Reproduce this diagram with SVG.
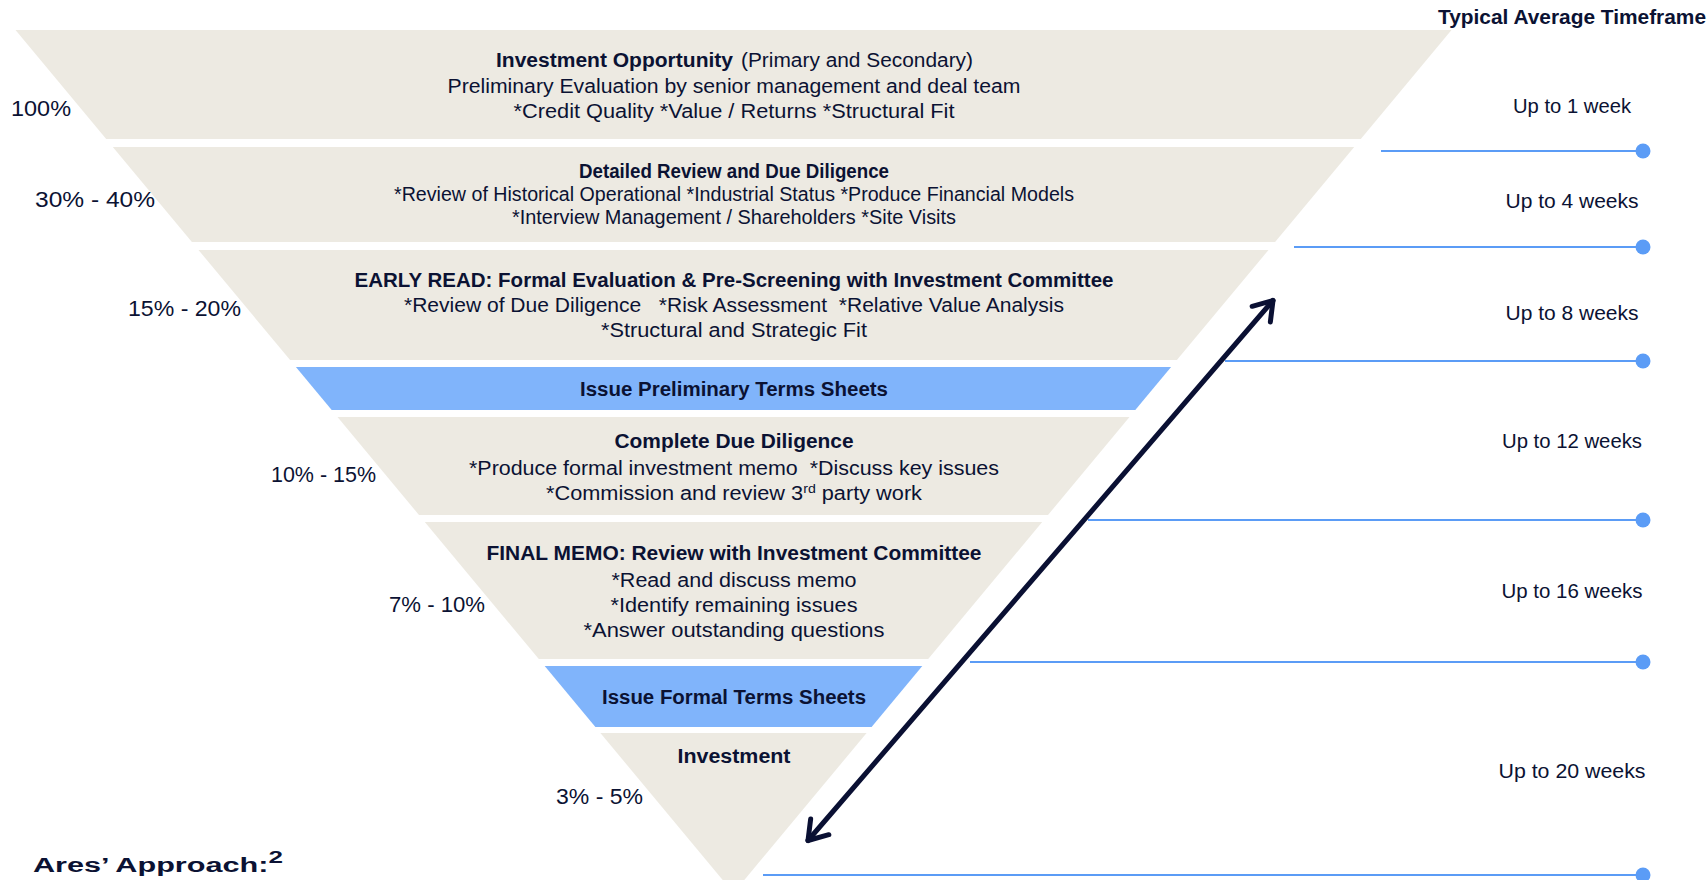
<svg xmlns="http://www.w3.org/2000/svg" width="1708" height="880" viewBox="0 0 1708 880">
  <defs>
    <style>
      .band { fill: #EDEAE2; }
      .blue { fill: #80B4FB; }
      .t { font-family: "Liberation Sans", Arial, sans-serif; font-size: 20px; fill: #0B1233; }
      .m { text-anchor: middle; }
      .b { font-weight: bold; }
      .pct { font-size: 22px; }
      .tl { stroke: #5B9CF6; stroke-width: 2; fill: none; }
      .dot { fill: #5B9CF6; }
      .arrow { stroke: #0A1033; stroke-width: 5; fill: none; stroke-linecap: round; }
    </style>
    <marker id="chev" viewBox="-26 -18 30 36" refX="0" refY="0" markerWidth="30" markerHeight="36" orient="auto-start-reverse" markerUnits="userSpaceOnUse">
      <path d="M-18,-12 L0,0 L-18,12" fill="none" stroke="#0A1033" stroke-width="5" stroke-linecap="round" stroke-linejoin="round"/>
    </marker>
  </defs>

  <rect width="1708" height="880" fill="#FFFFFF"/>

  <text class="t b" x="1438" y="24" font-size="19" textLength="268" lengthAdjust="spacingAndGlyphs">Typical Average Timeframe</text>

  <g id="stage-investment-opportunity">
    <polygon class="band" points="15.5,30 1451.5,30 1360.8,139 106.2,139"/>
    <text class="t b" x="496" y="67" textLength="237" lengthAdjust="spacingAndGlyphs">Investment Opportunity</text>
    <text class="t" x="741" y="67" textLength="232" lengthAdjust="spacingAndGlyphs">(Primary and Secondary)</text>
    <text class="t m" x="734" y="93" textLength="573" lengthAdjust="spacingAndGlyphs">Preliminary Evaluation by senior management and deal team</text>
    <text class="t m" x="734" y="118" textLength="441" lengthAdjust="spacingAndGlyphs">*Credit Quality *Value / Returns *Structural Fit</text>
    <text class="t pct" x="11" y="116" textLength="60" lengthAdjust="spacingAndGlyphs">100%</text>
  </g>

  <g id="stage-detailed-review">
    <polygon class="band" points="112.8,147 1354.2,147 1275.1,242 191.9,242"/>
    <text class="t m b" x="734" y="178" textLength="310" lengthAdjust="spacingAndGlyphs">Detailed Review and Due Diligence</text>
    <text class="t m" x="734" y="201" textLength="680" lengthAdjust="spacingAndGlyphs">*Review of Historical Operational *Industrial Status *Produce Financial Models</text>
    <text class="t m" x="734" y="224" textLength="444" lengthAdjust="spacingAndGlyphs">*Interview Management / Shareholders *Site Visits</text>
    <text class="t pct" x="35" y="207" textLength="120" lengthAdjust="spacingAndGlyphs">30% - 40%</text>
  </g>

  <g id="stage-early-read">
    <polygon class="band" points="198.5,250 1268.5,250 1176.9,360 290.1,360"/>
    <text class="t m b" x="734" y="287" textLength="759" lengthAdjust="spacingAndGlyphs">EARLY READ: Formal Evaluation &amp; Pre-Screening with Investment Committee</text>
    <text class="t m" x="734" y="312" xml:space="preserve" style="white-space:pre" textLength="660" lengthAdjust="spacingAndGlyphs">*Review of Due Diligence   *Risk Assessment  *Relative Value Analysis</text>
    <text class="t m" x="734" y="337" textLength="266" lengthAdjust="spacingAndGlyphs">*Structural and Strategic Fit</text>
    <text class="t pct" x="128" y="316" textLength="113" lengthAdjust="spacingAndGlyphs">15% - 20%</text>
  </g>

  <g id="stage-preliminary-terms">
    <polygon class="blue" points="295.9,367 1171.1,367 1135.3,410 331.7,410"/>
    <text class="t m b" x="734" y="396" textLength="308" lengthAdjust="spacingAndGlyphs">Issue Preliminary Terms Sheets</text>
  </g>

  <g id="stage-complete-due-diligence">
    <polygon class="band" points="337.5,417 1129.5,417 1048,515 419,515"/>
    <text class="t m b" x="734" y="448" textLength="239" lengthAdjust="spacingAndGlyphs">Complete Due Diligence</text>
    <text class="t m" x="734" y="475" xml:space="preserve" style="white-space:pre" textLength="530" lengthAdjust="spacingAndGlyphs">*Produce formal investment memo  *Discuss key issues</text>
    <text class="t m" x="734" y="500" textLength="376" lengthAdjust="spacingAndGlyphs">*Commission and review 3<tspan font-size="13" baseline-shift="super">rd</tspan> party work</text>
    <text class="t pct" x="271" y="482" textLength="105" lengthAdjust="spacingAndGlyphs">10% - 15%</text>
  </g>

  <g id="stage-final-memo">
    <polygon class="band" points="424.8,522 1042.2,522 928.2,659 538.8,659"/>
    <text class="t m b" x="734" y="560" textLength="495" lengthAdjust="spacingAndGlyphs">FINAL MEMO: Review with Investment Committee</text>
    <text class="t m" x="734" y="587" textLength="245" lengthAdjust="spacingAndGlyphs">*Read and discuss memo</text>
    <text class="t m" x="734" y="612" textLength="247" lengthAdjust="spacingAndGlyphs">*Identify remaining issues</text>
    <text class="t m" x="734" y="637" textLength="301" lengthAdjust="spacingAndGlyphs">*Answer outstanding questions</text>
    <text class="t pct" x="389" y="612" textLength="96" lengthAdjust="spacingAndGlyphs">7% - 10%</text>
  </g>

  <g id="stage-formal-terms">
    <polygon class="blue" points="544.7,666 922.3,666 871.6,727 595.4,727"/>
    <text class="t m b" x="734" y="704" textLength="264" lengthAdjust="spacingAndGlyphs">Issue Formal Terms Sheets</text>
  </g>

  <g id="stage-investment">
    <polygon class="band" points="600.4,733 866.6,733 733.5,893"/>
    <text class="t m b" x="734" y="763" textLength="113" lengthAdjust="spacingAndGlyphs">Investment</text>
    <text class="t pct" x="556" y="804" textLength="87" lengthAdjust="spacingAndGlyphs">3% - 5%</text>
  </g>

  <g id="timeline">
    <line class="tl" x1="1381" y1="151" x2="1643" y2="151"/>
    <circle class="dot" cx="1643" cy="151" r="7.5"/>
    <line class="tl" x1="1294" y1="247" x2="1643" y2="247"/>
    <circle class="dot" cx="1643" cy="247" r="7.5"/>
    <line class="tl" x1="1225" y1="361" x2="1643" y2="361"/>
    <circle class="dot" cx="1643" cy="361" r="7.5"/>
    <line class="tl" x1="1088" y1="520" x2="1643" y2="520"/>
    <circle class="dot" cx="1643" cy="520" r="7.5"/>
    <line class="tl" x1="970" y1="662" x2="1643" y2="662"/>
    <circle class="dot" cx="1643" cy="662" r="7.5"/>
    <line class="tl" x1="763" y1="875" x2="1643" y2="875"/>
    <circle class="dot" cx="1643" cy="875" r="7.5"/>

    <text class="t m" x="1572" y="113" textLength="118" lengthAdjust="spacingAndGlyphs">Up to 1 week</text>
    <text class="t m" x="1572" y="208" textLength="133" lengthAdjust="spacingAndGlyphs">Up to 4 weeks</text>
    <text class="t m" x="1572" y="320" textLength="133" lengthAdjust="spacingAndGlyphs">Up to 8 weeks</text>
    <text class="t m" x="1572" y="448" textLength="140" lengthAdjust="spacingAndGlyphs">Up to 12 weeks</text>
    <text class="t m" x="1572" y="598" textLength="141" lengthAdjust="spacingAndGlyphs">Up to 16 weeks</text>
    <text class="t m" x="1572" y="778" textLength="147" lengthAdjust="spacingAndGlyphs">Up to 20 weeks</text>
  </g>

  <g id="connectors">
    <line class="arrow" x1="1273" y1="300.5" x2="808" y2="840.5" marker-start="url(#chev)" marker-end="url(#chev)"/>
  </g>

  <text class="t b" x="33" y="872" font-size="32" textLength="250" lengthAdjust="spacingAndGlyphs">Ares’ Approach:<tspan font-size="17" baseline-shift="super">2</tspan></text>
</svg>
